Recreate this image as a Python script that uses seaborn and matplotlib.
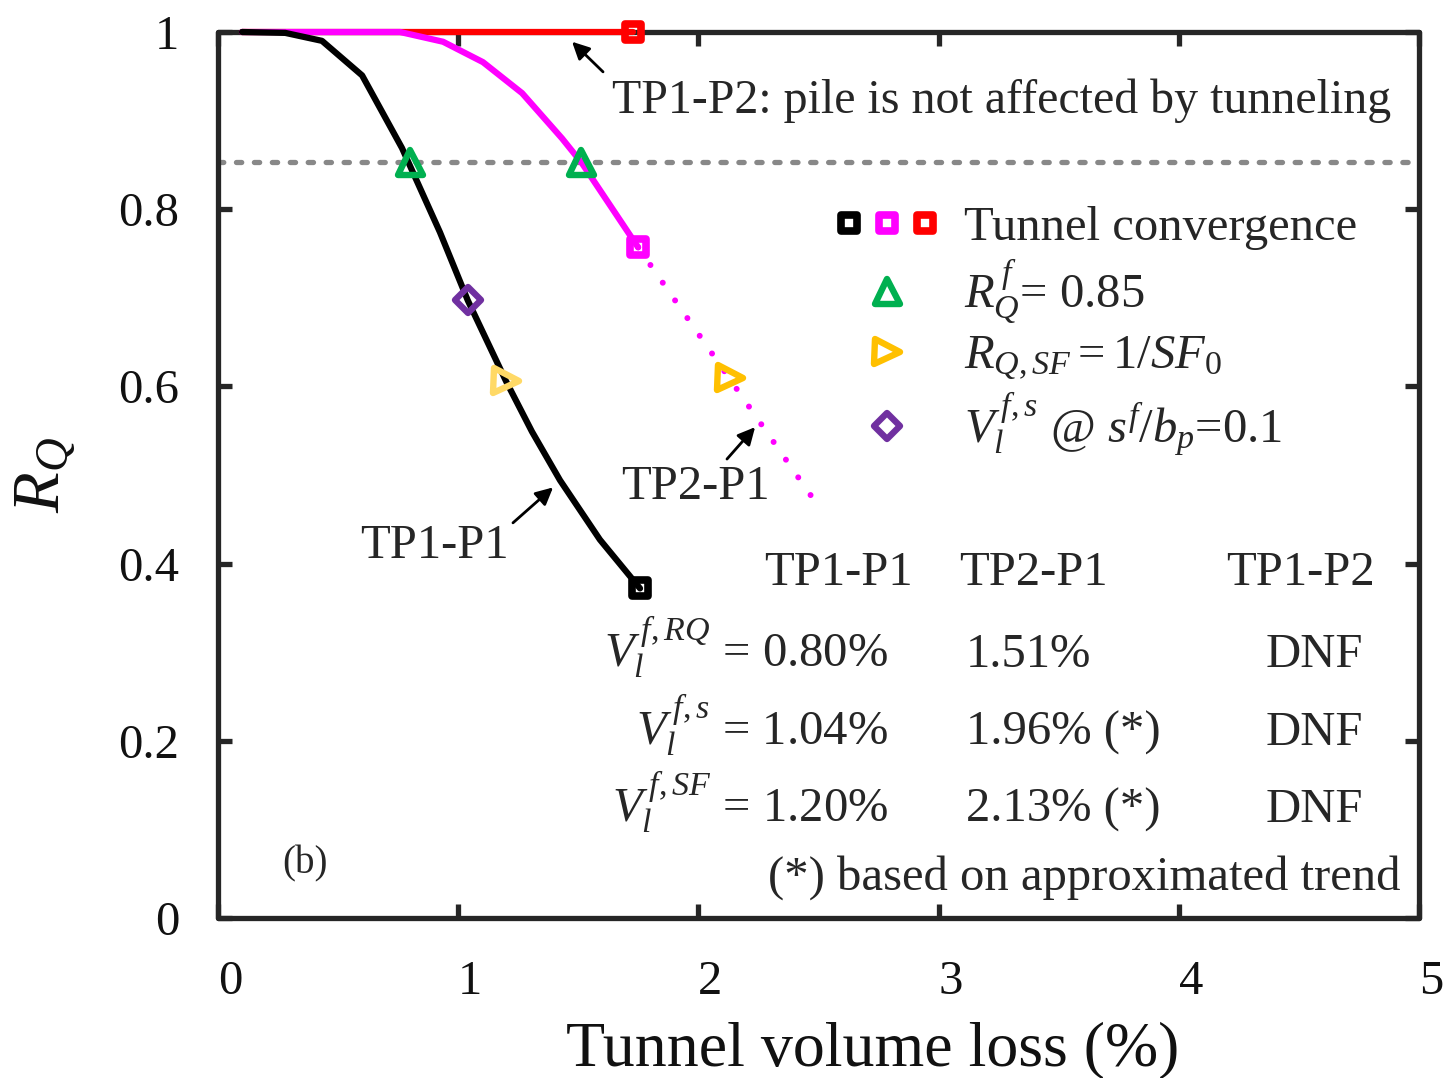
import matplotlib
matplotlib.use("Agg")
import matplotlib.pyplot as plt
import matplotlib.transforms as mtransforms
from matplotlib.markers import MarkerStyle
from matplotlib.lines import Line2D
from matplotlib.legend_handler import HandlerTuple
import seaborn as sns

# ---------------- data ----------------
tp1p1_x = [0.10, 0.28, 0.433, 0.60, 0.766, 0.924, 1.04, 1.199, 1.307, 1.424, 1.59, 1.757]
tp1p1_y = [1.000, 0.999, 0.990, 0.951, 0.869, 0.774, 0.697, 0.606, 0.549, 0.494, 0.427, 0.372]
tp2p1_x = [0.10, 0.758, 0.937, 1.103, 1.266, 1.432, 1.515, 1.749]
tp2p1_y = [1.000, 1.000, 0.989, 0.966, 0.931, 0.880, 0.852, 0.757]
tp2p1_trend_x = [1.749, 2.473]
tp2p1_trend_y = [0.757, 0.475]
tp1p2_x = [0.10, 1.728]
tp1p2_y = [1.000, 1.000]

conv_x = [1.757, 1.749, 1.728]
conv_y = [0.372, 0.757, 1.000]
rqf_level = 0.853
rqf_x = [0.80, 1.51]
sf_tp1_x, sf_tp1_y = [1.20], [0.606]
sf_tp2_x, sf_tp2_y = [2.13], [0.609]
s_x, s_y = [1.04], [0.697]

x_ticks = [0, 1, 2, 3, 4, 5]
x_ticklabels = ["0", "1", "2", "3", "4", "5"]
y_ticks = [0, 0.2, 0.4, 0.6, 0.8, 1.0]
y_ticklabels = ["0", "0.2", "0.4", "0.6", "0.8", "1"]

table_headers = ["TP1-P1", "TP2-P1", "TP1-P2"]
table_rows = [r"$V_l^{\,f,RQ}$ = 0.80%", r"$V_l^{\,f,s}$ = 1.04%", r"$V_l^{\,f,SF}$ = 1.20%"]
table_col2 = ["1.51%", "1.96% (*)", "2.13% (*)"]
table_col3 = ["DNF", "DNF", "DNF"]

# ---------------- style ----------------
sns.set_theme(style="ticks")
plt.rcParams["font.family"] = ["Liberation Serif", "DejaVu Serif"]
plt.rcParams["mathtext.fontset"] = "custom"
plt.rcParams["mathtext.rm"] = "Liberation Serif"
plt.rcParams["mathtext.it"] = "Liberation Serif:italic"
plt.rcParams["mathtext.bf"] = "Liberation Serif:bold"

BLACK = "#000000"
MAGENTA = "#FF00FF"
RED = "#FF0000"
GREEN = "#00B050"
YELLOW = "#FFC000"
YELLOW_L = "#FFD966"
PURPLE = "#7030A0"
GRAY = "#888888"
SPINE = "#262626"
FS = 35
MEW = 4.6
SQ_MS, SQ_MEW = 11, 5.5

fig = plt.figure(figsize=(14.46, 10.78), dpi=100)
ax = fig.add_axes([218 / 1446, 160 / 1078, 1201 / 1446, 886 / 1078])

LW = 4.5
# main curves
sns.lineplot(x=tp1p2_x, y=tp1p2_y, ax=ax, color=RED, lw=LW, sort=False,
             estimator=None, solid_capstyle="round", zorder=3, clip_on=False)
sns.lineplot(x=tp2p1_x, y=tp2p1_y, ax=ax, color=MAGENTA, lw=LW, sort=False,
             estimator=None, solid_capstyle="round", solid_joinstyle="round", zorder=4,
             clip_on=False)
sns.lineplot(x=tp1p1_x, y=tp1p1_y, ax=ax, color=BLACK, lw=LW, sort=False,
             estimator=None, solid_capstyle="round", solid_joinstyle="round", zorder=5,
             clip_on=False)
sns.lineplot(x=tp2p1_trend_x, y=tp2p1_trend_y, ax=ax, color=MAGENTA, lw=4.3, sort=False,
             estimator=None, linestyle=(0, (0.01, 3.6)), dash_capstyle="round", zorder=4)

# R_Q^f level
ax.axhline(rqf_level, color=GRAY, lw=3.8, linestyle=(0, (1.0, 2.4)),
           dash_capstyle="round", zorder=2)

def mk(m):
    return MarkerStyle(m, joinstyle="round")

# convergence squares
for xx, yy, c in zip(conv_x, conv_y, [BLACK, MAGENTA, RED]):
    sns.lineplot(x=[xx], y=[yy], ax=ax, linestyle="", marker=mk("s"), markersize=SQ_MS,
                 markerfacecolor="none", markeredgecolor=c, markeredgewidth=SQ_MEW,
                 estimator=None, zorder=7, clip_on=False)
# R_Q^f triangles
sns.lineplot(x=rqf_x, y=[rqf_level] * len(rqf_x), ax=ax, linestyle="", marker=mk("^"),
             markersize=18, markerfacecolor="none", markeredgecolor=GREEN,
             markeredgewidth=MEW, estimator=None, sort=False, zorder=7)
# 1/SF0 triangles
sns.lineplot(x=sf_tp1_x, y=sf_tp1_y, ax=ax, linestyle="", marker=mk(">"), markersize=18,
             markerfacecolor="none", markeredgecolor=YELLOW_L, markeredgewidth=MEW,
             estimator=None, zorder=7)
sns.lineplot(x=sf_tp2_x, y=sf_tp2_y, ax=ax, linestyle="", marker=mk(">"), markersize=18,
             markerfacecolor="none", markeredgecolor=YELLOW, markeredgewidth=MEW,
             estimator=None, zorder=7)
# settlement diamond
sns.lineplot(x=s_x, y=s_y, ax=ax, linestyle="", marker=mk("D"), markersize=13,
             markerfacecolor="none", markeredgecolor=PURPLE, markeredgewidth=MEW,
             estimator=None, zorder=7)

# ---------------- axes ----------------
ax.set_xlim(0, 5)
ax.set_ylim(0, 1)
ax.set_xticks(x_ticks)
ax.set_xticklabels(x_ticklabels)
ax.set_yticks(y_ticks)
ax.set_yticklabels(y_ticklabels)
for s in ax.spines.values():
    s.set_linewidth(3.8)
    s.set_color(SPINE)
    s.set_visible(True)
    s.set_capstyle("round")
ax.tick_params(axis="both", which="major", direction="in", length=10, width=3.8,
               color=SPINE, top=True, right=True, labelsize=FS, labelcolor="#111111")
ax.tick_params(axis="x", pad=30)
ax.tick_params(axis="y", pad=28)
offset = mtransforms.ScaledTranslation(12 / 100, 0, fig.dpi_scale_trans)
for lab in ax.get_xticklabels():
    lab.set_transform(lab.get_transform() + offset)

ax.set_xlabel("Tunnel volume loss (%)", fontsize=46, color="#111111")
ax.xaxis.set_label_coords(0.545, -0.117)
ax.set_ylabel(r"$R_Q$", fontsize=48, color="#111111")
ax.yaxis.set_label_coords(-0.117, 0.50)

# ---------------- annotations ----------------
arrow = dict(arrowstyle="-|>", color="black", lw=2.0, mutation_scale=26, shrinkA=0, shrinkB=0)
ax.annotate("", xy=(1.474, 0.989), xytext=(1.603, 0.955), arrowprops=arrow, zorder=8)
ax.text(1.64, 0.9086, "TP1-P2: pile is not affected by tunneling", fontsize=34.5,
        ha="left", va="baseline")
ax.annotate("", xy=(1.395, 0.486), xytext=(1.228, 0.446), arrowprops=arrow, zorder=8)
ax.text(0.899, 0.406, "TP1-P1", fontsize=FS, ha="center", va="baseline")
ax.annotate("", xy=(2.236, 0.554), xytext=(2.119, 0.518), arrowprops=arrow, zorder=8)
ax.text(1.986, 0.473, "TP2-P1", fontsize=FS, ha="center", va="baseline")

ax.text(0.362, 0.0508, "(b)", fontsize=28, ha="center", va="baseline")

# ---------------- table ----------------
for xh, h in zip([2.585, 3.393, 4.505], table_headers):
    ax.text(xh, 0.3758, h, fontsize=FS, ha="center", va="baseline")
for yb, r, c2, c3 in zip([0.2833, 0.1953, 0.1084], table_rows, table_col2, table_col3):
    ax.text(2.789, yb, r, fontsize=FS, ha="right", va="baseline")
    ax.text(3.114, yb, c2, fontsize=FS, ha="left", va="baseline")
    ax.text(4.565, yb, c3, fontsize=FS, ha="center", va="baseline")
ax.text(4.921, 0.0316, "(*) based on approximated trend", fontsize=FS, ha="right",
        va="baseline")

# ---------------- legend ----------------
def key(m, c, ms, mew=MEW):
    return Line2D([], [], linestyle="", marker=mk(m), markersize=ms, markerfacecolor="none",
                  markeredgecolor=c, markeredgewidth=mew)

handles = [
    (key("s", BLACK, SQ_MS, SQ_MEW), key("s", MAGENTA, SQ_MS, SQ_MEW),
     key("s", RED, SQ_MS, SQ_MEW)),
    key("^", GREEN, 18),
    key(">", YELLOW, 18),
    key("D", PURPLE, 13),
]
labels = [
    "Tunnel convergence",
    r"$R_Q^{\,f}$= 0.85",
    r"$R_{Q,SF}=$1/$SF_0$",
    r"$V_l^{\,f,s}$ @ $s^f/b_p$=0.1",
]
leg = ax.legend(handles, labels, handler_map={tuple: HandlerTuple(ndivide=None, pad=0)},
                loc="upper left", bbox_to_anchor=(0.5096, 0.804), frameon=False,
                fontsize=FS, handlelength=2.35, handletextpad=0.4, labelspacing=0.17,
                borderpad=0, borderaxespad=0)

fig.savefig("out.png", dpi=100)
